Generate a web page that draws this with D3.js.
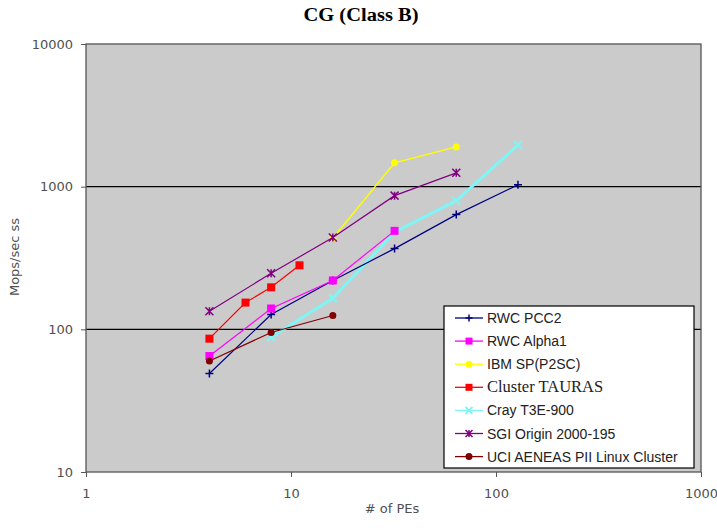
<!DOCTYPE html>
<html><head><meta charset="utf-8">
<script src="https://cdn.jsdelivr.net/npm/d3@7"></script>
<style>body{margin:0;background:#fff}</style>
</head><body>
<svg id="c" width="717" height="528"></svg>
<script>
const xTicks = [1, 10, 100, 1000];
const yTicks = [10, 100, 1000, 10000];
const seriesNames = ["RWC PCC2","RWC Alpha1","IBM SP(P2SC)","Cluster TAURAS","Cray T3E-900","SGI Origin 2000-195","UCI AENEAS PII Linux Cluster"];
const pcc2PEs = [4, 8, 16, 32, 64, 128];
const pcc2Vals = [49, 127, 220, 368, 637, 1030];
const alphaPEs = [4, 8, 16, 32];
const alphaVals = [65, 140, 220, 490];
const ibmPEs = [16, 32, 64];
const ibmVals = [435, 1470, 1900];
const taurasPEs = [4, 6, 8, 11];
const taurasVals = [86, 154, 197, 281];
const crayPEs = [8, 16, 32, 64, 128];
const crayVals = [88, 165, 480, 798, 1960];
const sgiPEs = [4, 8, 16, 32, 64];
const sgiVals = [134, 247, 440, 865, 1250];
const uciPEs = [4, 8, 16];
const uciVals = [60, 95, 125];

const styles = [
  {color:"#000080", marker:"plus", width:1.2, ms:4},
  {color:"#ff00ff", marker:"square", width:1.2, ms:4},
  {color:"#ffff00", marker:"circle", width:1.5, ms:3.5},
  {color:"#ff0000", marker:"square", width:1.2, ms:4},
  {color:"#7ff5f5", marker:"x", width:3, ms:4},
  {color:"#800080", marker:"star", width:1.2, ms:4},
  {color:"#800000", marker:"circle", width:1.2, ms:3.5}
];
const series = [
  [pcc2PEs,pcc2Vals],[alphaPEs,alphaVals],[ibmPEs,ibmVals],[taurasPEs,taurasVals],
  [crayPEs,crayVals],[sgiPEs,sgiVals],[uciPEs,uciVals]
].map((d,i)=>({name:seriesNames[i], pts:d[0].map((x,j)=>({x, y:d[1][j]})), ...styles[i]}));

const svg = d3.select("#c");
const L=86,R=701,T=44,B=472;
const x = d3.scaleLog().domain([1,1000]).range([L,R]);
const y = d3.scaleLog().domain([10,10000]).range([B,T]);

svg.append("rect").attr("x",L).attr("y",T).attr("width",R-L).attr("height",B-T).attr("fill","#cbcbcb");
svg.append("g").selectAll("line").data([100,1000]).join("line")
  .attr("x1",L).attr("x2",R).attr("y1",d=>y(d)).attr("y2",d=>y(d)).attr("stroke","#000").attr("stroke-width",1.3);
svg.append("rect").attr("x",L).attr("y",T).attr("width",R-L).attr("height",B-T).attr("fill","none").attr("stroke","#555").attr("stroke-width",1.3);

const yAxis = svg.append("g").attr("transform",`translate(${L},0)`)
  .call(d3.axisLeft(y).tickValues(yTicks).tickFormat(d3.format("d")).tickSize(5).tickPadding(8));
const xAxis = svg.append("g").attr("transform",`translate(0,${B})`)
  .call(d3.axisBottom(x).tickValues(xTicks).tickFormat(d3.format("d")).tickSize(5).tickPadding(12));
[xAxis,yAxis].forEach(a=>{
  a.select(".domain").remove();
  a.selectAll(".tick line").attr("stroke","#555");
  a.selectAll("text").attr("font-family","DejaVu Sans, sans-serif").attr("font-size",13).attr("fill","#505050");
});

svg.append("text").attr("x",361).attr("y",21).attr("text-anchor","middle")
  .attr("font-family","Liberation Serif, Times New Roman, serif").attr("font-weight","bold").attr("font-size",18)
  .attr("textLength",115).attr("lengthAdjust","spacingAndGlyphs").text("CG (Class B)");
svg.append("text").attr("transform","translate(19,257) rotate(-90)").attr("text-anchor","middle")
  .attr("font-family","DejaVu Sans, sans-serif").attr("font-size",13).attr("fill","#505050").text("Mops/sec ss");
svg.append("text").attr("x",392).attr("y",513).attr("text-anchor","middle")
  .attr("font-family","DejaVu Sans, sans-serif").attr("font-size",13).attr("fill","#505050").text("# of PEs");

function marker(g, type, color, cx, cy, s){
  if(type==="square") g.append("rect").attr("x",cx-s).attr("y",cy-s).attr("width",2*s).attr("height",2*s).attr("fill",color);
  else if(type==="circle") g.append("circle").attr("cx",cx).attr("cy",cy).attr("r",s).attr("fill",color);
  else if(type==="plus") g.append("path").attr("d",`M${cx-s},${cy}H${cx+s}M${cx},${cy-s}V${cy+s}`).attr("stroke",color).attr("stroke-width",1.5);
  else if(type==="x") g.append("path").attr("d",`M${cx-s},${cy-s}L${cx+s},${cy+s}M${cx-s},${cy+s}L${cx+s},${cy-s}`).attr("stroke",color).attr("stroke-width",2);
  else if(type==="star") g.append("path").attr("d",`M${cx-s},${cy-s}L${cx+s},${cy+s}M${cx-s},${cy+s}L${cx+s},${cy-s}M${cx},${cy-s}V${cy+s}`).attr("stroke",color).attr("stroke-width",1.5);
}
const line = d3.line().x(d=>x(d.x)).y(d=>y(d.y));
const drawOrder = [4,2,0,1,3,5,6];
drawOrder.forEach(i=>{
  const s = series[i];
  const g = svg.append("g");
  g.append("path").datum(s.pts).attr("d",line).attr("fill","none").attr("stroke",s.color).attr("stroke-width",s.width);
  s.pts.forEach(p=>marker(g,s.marker,s.color,x(p.x),y(p.y),s.ms));
});

const lg = svg.append("g");
lg.append("rect").attr("x",444).attr("y",306).attr("width",250).attr("height",162).attr("fill","#fff").attr("stroke","#000").attr("stroke-width",1.2);
series.forEach((s,i)=>{
  const yy = 318 + i*23.1;
  lg.append("line").attr("x1",455).attr("x2",483).attr("y1",yy).attr("y2",yy).attr("stroke",s.color).attr("stroke-width",1.3);
  marker(lg,s.marker,s.color,469,yy,3.5);
  const t = lg.append("text").attr("x",487).attr("y",yy+5).attr("fill","#222").text(s.name);
  if(i===3) t.attr("font-family","Liberation Serif, Times New Roman, serif").attr("font-size",16.5);
  else t.attr("font-family","Liberation Sans, Arial, sans-serif").attr("font-size",14);
});
</script>
</body></html>
